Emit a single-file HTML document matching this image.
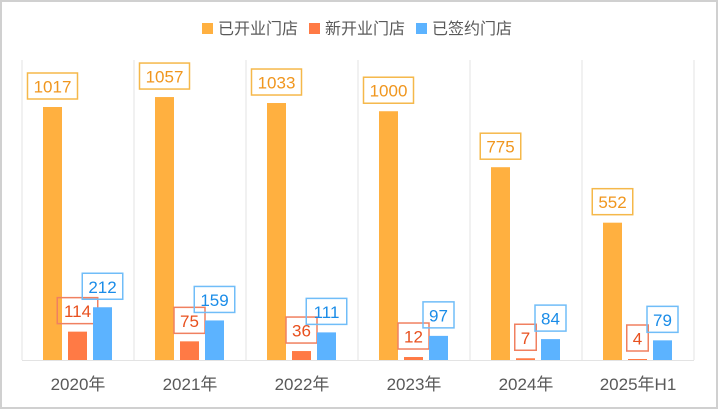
<!DOCTYPE html>
<html><head><meta charset="utf-8"><style>
body{margin:0;background:#fff;}
svg{display:block;font-family:"Liberation Sans","Noto Sans CJK SC",sans-serif;}
</style></head><body>
<svg id="c" width="718" height="409">
<rect x="1" y="1" width="716" height="407" fill="#fff" stroke="#d0d0d0" stroke-width="2"/>
<g>
 <rect x="202" y="23" width="11" height="11" fill="#ffb040"/>
 <text x="218" y="34" font-size="16" fill="#595959">已开业门店</text>
 <rect x="309" y="23" width="11" height="11" fill="#ff7a45"/>
 <text x="325" y="34" font-size="16" fill="#595959">新开业门店</text>
 <rect x="416" y="23" width="11" height="11" fill="#5cb3ff"/>
 <text x="432" y="34" font-size="16" fill="#595959">已签约门店</text>
</g>
<g id="plot"></g>
</svg>
<script>
const categories=["2020年","2021年","2022年","2023年","2024年","2025年H1"];
const opened=[1017,1057,1033,1000,775,552];
const newOpened=[114,75,36,12,7,4];
const signed=[212,159,111,97,84,79];
const series=[{v:opened,c:"#ffb040",t:"#f0961e",b:"#f5b84a",n:"opened"},{v:newOpened,c:"#ff7a45",t:"#e8501e",b:"#f08060",n:"new"},{v:signed,c:"#5cb3ff",t:"#1a8ce8",b:"#70bdf8",n:"signed"}];
const x0=22,cw=112,base=360,scale=253/1017;
const y=v=>base-v*scale;
const ns="http://www.w3.org/2000/svg";
const g=document.getElementById('plot');
function mk(t,a){const e=document.createElementNS(ns,t);for(const k in a)e.setAttribute(k,a[k]);g.appendChild(e);return e;}
for(let i=0;i<=categories.length;i++){
 const l=mk('line',{x1:x0+i*cw,x2:x0+i*cw,y1:60,y2:base,stroke:'#e3e3e3','stroke-width':1});
 
 
}
const ax=mk('line',{x1:x0,x2:x0+cw*categories.length,y1:base+0.5,y2:base+0.5,stroke:'#e3e3e3'});


categories.forEach((cat,i)=>{
 const t=mk('text',{x:x0+i*cw+cw/2,y:390,'font-size':17,fill:'#595959','text-anchor':'middle'});
 t.textContent=cat;
 
 
 series.forEach((s,j)=>{
  const bx=x0+i*cw+21+j*25, v=s.v[i], top=y(v);
  const r=mk('rect',{x:bx,y:top,width:19,height:base-top,fill:s.c});
  
  
  const txt=String(v);
  const w=Math.max(21,txt.length*9.5+12), cx=bx+9.5, by=top-34;
  const b=mk('rect',{x:cx-w/2,y:by,width:w,height:26,fill:'none',stroke:s.b,'stroke-width':1.5});
  
  
  const vt=mk('text',{x:cx,y:by+19.5,'font-size':17,fill:s.t,'text-anchor':'middle'});
  vt.textContent=txt;
  
  
 });
});
</script>
</body></html>
